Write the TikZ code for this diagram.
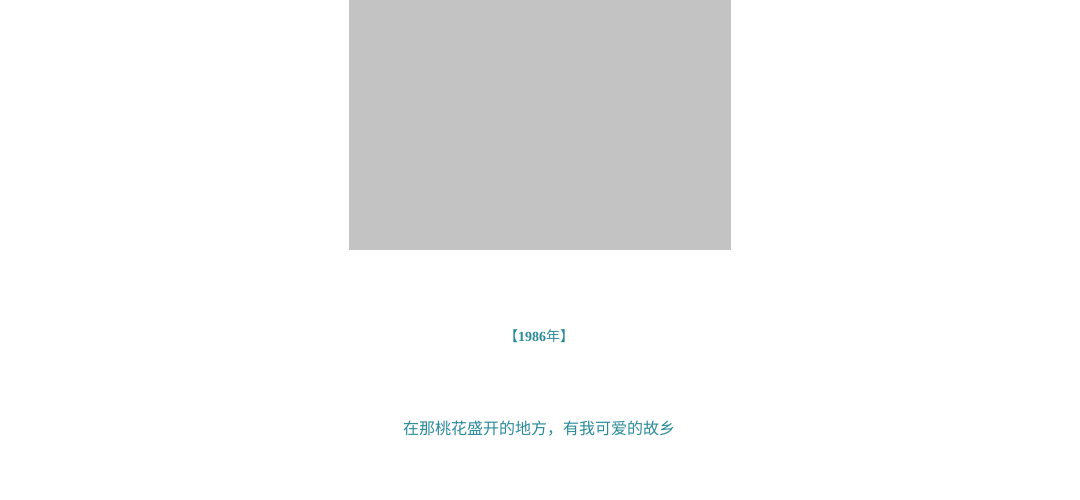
\documentclass[tikz,border=0pt]{standalone}
\usepackage{fontspec}
\setmainfont{Liberation Serif}
\newfontfamily\cjk{Noto Sans CJK SC}
\definecolor{teal1}{HTML}{2A8A99}
\definecolor{boxgray}{HTML}{C3C3C3}
\begin{document}
\begin{tikzpicture}[x=1pt,y=-1pt,
  txt/.style={text=teal1, inner sep=0pt, anchor=center}]
\useasboundingbox (0,0) rectangle (1080,500);
\fill[boxgray] (349,0) rectangle (731,250);
\node[txt, font=\fontsize{14}{16}\selectfont] (year) at (539,336) {{\cjk 【}\textbf{1986}{\cjk 年】}};
\node[txt, font=\fontsize{16}{18}\selectfont\cjk] (line) at (539,429) {在那桃花盛开的地方，有我可爱的故乡};
\end{tikzpicture}
\end{document}
